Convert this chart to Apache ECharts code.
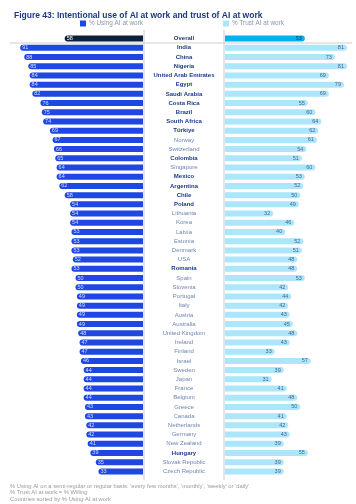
<!DOCTYPE html>
<html><head><meta charset="utf-8">
<script src="https://cdn.jsdelivr.net/npm/echarts@6/dist/echarts.min.js"></script>
<style>html,body{margin:0;padding:0;background:#fff}#c{width:356px;height:504px}</style>
</head><body><div id="c"></div>
<script>
const categories = ['Overall','India','China','Nigeria','United Arab Emirates','Egypt','Saudi Arabia','Costa Rica','Brazil','South Africa','Türkiye','Norway','Switzerland','Colombia','Singapore','Mexico','Argentina','Chile','Poland','Lithuania','Korea','Latvia','Estonia','Denmark','USA','Romania','Spain','Slovenia','Portugal','Italy','Austria','Australia','United Kingdom','Ireland','Finland','Israel','Sweden','Japan','France','Belgium','Greece','Canada','Netherlands','Germany','New Zealand','Hungary','Slovak Republic','Czech Republic'];
const usingAI = [58,91,88,85,84,84,82,76,75,74,69,67,66,65,64,64,62,58,54,54,54,53,53,53,52,53,50,50,49,49,49,49,48,47,47,46,44,44,44,44,43,43,42,42,41,39,35,33];
const trustAI = [53,81,73,81,69,79,69,55,60,64,62,61,54,51,60,53,52,50,49,32,46,40,52,51,48,48,53,42,44,42,43,45,48,43,33,57,39,31,41,48,50,41,42,43,39,55,39,39];
const boldRows = ['Overall','India','China','Nigeria','United Arab Emirates','Egypt','Saudi Arabia','Costa Rica','Brazil','South Africa','Türkiye','Colombia','Mexico','Argentina','Chile','Poland','Romania','Hungary'];
const legendNames = ['% Using AI at work','% Trust AI at work'];
const footnotes = ["% Using AI on a semi-regular or regular basis: 'every few months', 'monthly', 'weekly' or 'daily'", "% Trust AI at work = % Willing", "Countries sorted by % Using AI at work"];

const FONT = 'Liberation Sans, Arial, sans-serif';
const chart = echarts.init(document.getElementById('c'), null, {renderer:'canvas'});
const gTop = 34, gHeight = 442;

const leftData = usingAI.map((v,i)=> i===0 ? {value:v, itemStyle:{color:'#0e2039'}, label:{color:'#ffffff'}} : v);
const rightData = trustAI.map((v,i)=> i===0 ? {value:v, itemStyle:{color:'#00b2ee'}, label:{color:'#1b2e55'}} : v);

chart.setOption({
  animation:false,
  title:{text:'Figure 43: Intentional use of AI at work and trust of AI at work', left:9, top:6,
    textStyle:{fontSize:8.5, fontWeight:'bold', color:'#1b3a7e', fontFamily:FONT}},
  legend:[
    {data:[legendNames[0]], left:80, top:20.5, icon:'rect', itemWidth:6, itemHeight:6, padding:0,
     textStyle:{fontSize:6.4, color:'#8a96ad', fontFamily:FONT, padding:[0,0,0,-2]}},
    {data:[legendNames[1]], left:223, top:20.5, icon:'rect', itemWidth:6, itemHeight:6, padding:0,
     textStyle:{fontSize:6.4, color:'#8a96ad', fontFamily:FONT, padding:[0,0,0,-2]}}
  ],
  grid:[
    {left:8, width:135, top:gTop, height:gHeight},
    {left:225, width:128, top:gTop, height:gHeight}
  ],
  xAxis:[
    {gridIndex:0, type:'value', min:0, max:100, inverse:true, show:false},
    {gridIndex:1, type:'value', min:0, max:85, show:false}
  ],
  yAxis:[
    {gridIndex:0, type:'category', data:categories, inverse:true, position:'right',
     axisLine:{show:false}, axisTick:{show:false},
     axisLabel:{margin:41, align:'center', interval:0,
       formatter:(n)=> (boldRows.includes(n)?'{b|':'{n|')+n+'}',
       rich:{
         b:{fontSize:6, fontWeight:'bold', color:'#1b3a8a', fontFamily:FONT},
         n:{fontSize:6, color:'#7084b4', fontFamily:FONT}
       }}},
    {gridIndex:1, type:'category', data:categories, inverse:true, show:false}
  ],
  graphic:[
    {type:'line', shape:{x1:144, y1:30, x2:144, y2:480}, style:{stroke:'#dcdcdc', lineWidth:1.5}, z:0},
    {type:'line', shape:{x1:224, y1:30, x2:224, y2:480}, style:{stroke:'#dcdcdc', lineWidth:1.5}, z:0},
    {type:'line', shape:{x1:10, y1:43, x2:352, y2:43}, style:{stroke:'#cfcfcf', lineWidth:1}, z:0},
    ...footnotes.map((t,i)=>({type:'text', left:10, top:483+i*6.5,
      style:{text:t, fontSize:5.8, fill:'#9a9a9a', fontFamily:FONT}}))
  ],
  series:[
    {name:legendNames[0], type:'bar', xAxisIndex:0, yAxisIndex:0, data:leftData, barWidth:6,
     itemStyle:{color:'#1f47e4', borderRadius:[3,0,0,3]},
     label:{show:true, position:'insideLeft', distance:2, fontSize:5.5, color:'#d4ddff', fontFamily:FONT}},
    {name:legendNames[1], type:'bar', xAxisIndex:1, yAxisIndex:1, data:rightData, barWidth:6,
     itemStyle:{color:'#abe6fb', borderRadius:[0,3,3,0]},
     label:{show:true, position:'insideRight', distance:3, fontSize:5.5, color:'#4a6394', fontFamily:FONT}}
  ]
});
</script></body></html>
